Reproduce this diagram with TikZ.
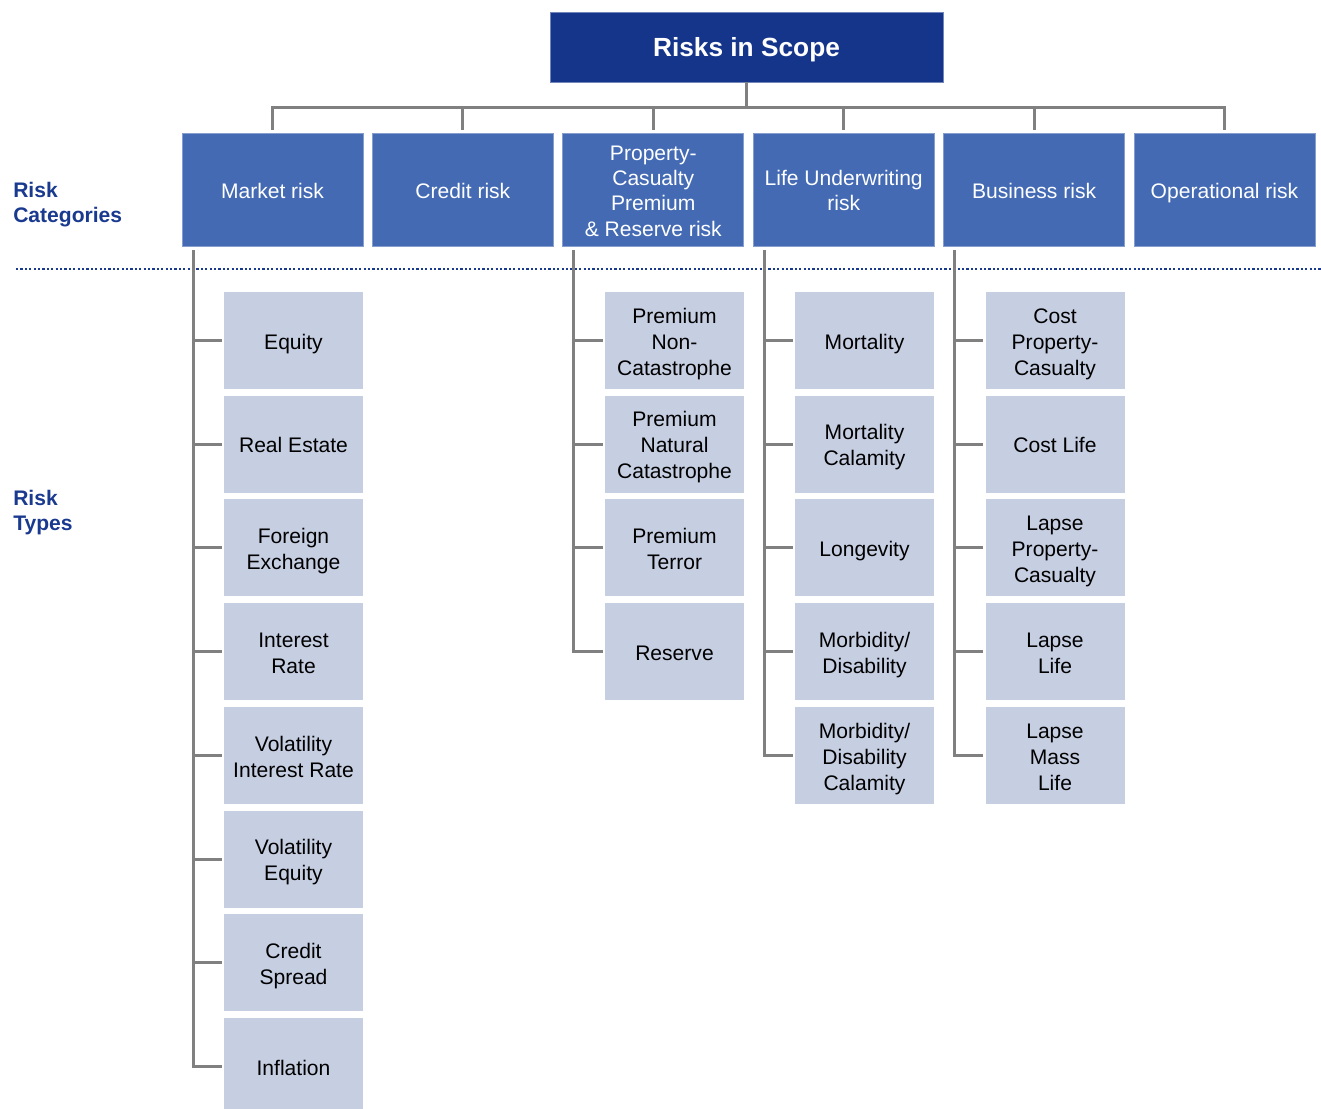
\documentclass[tikz,border=0pt]{standalone}
\usepackage{fontspec}
\setmainfont{Liberation Sans}

\definecolor{scopeblue}{HTML}{14358A}
\definecolor{catblue}{HTML}{436AB3}
\definecolor{typeblue}{HTML}{C6CEE2}
\definecolor{labelblue}{HTML}{1A3A8F}
\definecolor{linkgray}{HTML}{808080}
\newcommand\boxstrut{\rule[-0.212em]{0pt}{1.25em}}
\newcommand\lastdepth{\rule[-0.212em]{0pt}{0.212em}}
\newcommand\topstrut{\rule[-0.212em]{0pt}{1.117em}}

\begin{document}
\begin{tikzpicture}[x = 0.75pt, y = -0.75pt,
    top/.style = {fill = scopeblue, draw = scopeblue!60!white, line width = 0.5pt, text = white, font = \fontsize{19.7}{23}\selectfont\bfseries, minimum width = 294.75pt, minimum height = 52.5pt, inner sep = 0pt},
    cat/.style = {fill = catblue, draw = catblue!65!white, line width = 0.5pt, text = white, font = \fontsize{15.8}{19}\selectfont, align = center, minimum width = 135.75pt, minimum height = 84.75pt, inner sep = 0pt},
    type/.style = {fill = typeblue, text = black, font = \fontsize{15.8}{19.5}\selectfont, align = center, minimum width = 104.25pt, minimum height = 72.75pt, inner sep = 0pt},
    link/.style = {draw = linkgray, line width = 2.25pt},
    side/.style = {text = labelblue, font = \fontsize{15.8}{18.75}\selectfont\bfseries, align = left, anchor = north west, inner sep = 0pt},
    sep/.style = {draw = labelblue, line width = 1.6pt, dash pattern = on 1.6pt off 1.7pt}]
    \useasboundingbox (0,0) rectangle (1321,1108);

    \node[top] (scope) at (746.5,47) {\topstrut Risks in Scope};
    \foreach \name/\txt [count=\i] in {M/Market risk, C/Credit risk, P/{Property-\\Casualty\\Premium\\\& Reserve risk}, L/{Life Underwriting\\risk}, B/Business risk, O/Operational risk}
        \node[cat] (\name) at ({272.5 + (\i-1)*190.4}, 189.5) {\boxstrut\txt\lastdepth};

    \coordinate (bus) at (746.5,107);
    \draw[link] (scope.south) -- (bus);
    \draw[link] ([yshift=2.25pt]M.north) |- (bus) -| ([yshift=2.25pt]O.north);
    \foreach \name in {C,P,L,B}
        \draw[link] (\name.north |- bus) -- ([yshift=2.25pt]\name.north);

    \node[side] (riskcat) at (13,182) {Risk\\Categories};
    \node[side] (risktype) at (13,490) {Risk\\Types};
    \coordinate (sepL) at (16,269);
    \coordinate (sepR) at (1321,269);
    \draw[sep] (sepL) -- (sepR);

    \foreach \txt [count=\i] in {Equity, Real Estate, {Foreign\\Exchange}, {Interest\\Rate}, {Volatility\\Interest Rate}, {Volatility\\Equity}, {Credit\\Spread}, Inflation}
        \node[type] (m\i) at (293.5, {340.5 + (\i-1)*103.7}) {\boxstrut\txt\lastdepth};
    \foreach \txt [count=\i] in {{Premium\\Non-\\Catastrophe}, {Premium\\Natural\\Catastrophe}, {Premium\\Terror}, Reserve}
        \node[type] (p\i) at (674.5, {340.5 + (\i-1)*103.7}) {\boxstrut\txt\lastdepth};
    \foreach \txt [count=\i] in {Mortality, {Mortality\\Calamity}, Longevity, {Morbidity/\\Disability}, {Morbidity/\\Disability\\Calamity}}
        \node[type] (l\i) at (864.5, {340.5 + (\i-1)*103.7}) {\boxstrut\txt\lastdepth};
    \foreach \txt [count=\i] in {{Cost\\Property-\\Casualty}, Cost Life, {Lapse\\Property-\\Casualty}, {Lapse\\Life}, {Lapse\\Mass\\Life}}
        \node[type] (b\i) at (1055, {340.5 + (\i-1)*103.7}) {\boxstrut\txt\lastdepth};

    \foreach \name/\sub/\n in {M/m/8, P/p/4, L/l/5, B/b/5} {
        \coordinate (\sub t) at ([xshift=8.6pt, yshift=-3pt]\name.south west);
        \draw[link] (\sub t) |- ([xshift=-1.5pt]\sub\n.west);
        \foreach \i in {1,...,\n}
            \draw[link] (\sub\i.west -| \sub t) -- ([xshift=-1.5pt]\sub\i.west);
    }
\end{tikzpicture}
\end{document}
